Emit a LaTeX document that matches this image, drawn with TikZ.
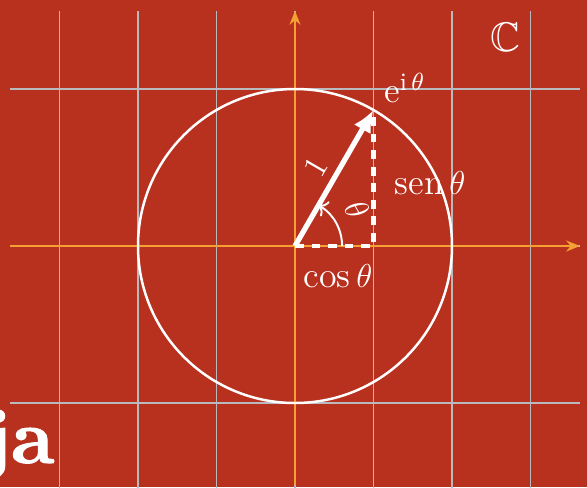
\documentclass[tikz,border=0pt]{standalone}
\usepackage{amsmath,amssymb}
\usepackage{fontspec}
\newfontface\jafont{lmroman10-bold.otf}[FakeBold=1.4]
\usepackage{xcolor}
\definecolor{slidered}{RGB}{184,48,30}
\definecolor{axisorange}{RGB}{245,160,50}
\definecolor{gridgray}{RGB}{185,185,190}
\usepackage{tikz}
\usetikzlibrary{arrows.meta}

\begin{document}
\begin{tikzpicture}[x=2cm, y=2cm,
  gridline/.style={draw=gridgray, line width=0.5pt},
  axis/.style={draw=axisorange, line width=0.55pt, -{Stealth[length=5pt,width=4pt]}},
  unitcircle/.style={draw=white, line width=0.9pt},
  vec/.style={draw=white, line width=1.9pt, -{Latex[length=8pt,width=7pt]}},
  proj/.style={draw=white, line width=1.5pt, dash pattern=on 3.2pt off 2.8pt},
  anglearc/.style={draw=white, line width=0.7pt, -{To[length=3pt]}},
  lbl/.style={text=white, font=\fontsize{13}{16}\selectfont, inner sep=1pt}
]

% Frame
\useasboundingbox (-1.879,-1.535) rectangle (1.860,1.567);
\clip (-1.879,-1.535) rectangle (1.860,1.567);
\fill[slidered] (-1.879,-1.535) rectangle (1.860,1.567);

% Grid
\foreach \x in {-1.5,-1,...,1.5}
  \draw[gridline] (\x,1.497) -- (\x,-1.6);
\foreach \y in {-1,0,1}
  \draw[gridline] (-1.815,\y) -- (1.815,\y);

% Axes
\coordinate (xmin) at (-1.815,0);
\coordinate (xmax) at (1.815,0);
\coordinate (ymin) at (0,-1.52);
\coordinate (ymax) at (0,1.497);
\draw[axis] (xmin) -- (xmax);
\draw[axis] (ymin) -- (ymax);

% Unit circle and point
\coordinate (O) at (0,0);
\coordinate (P) at (60:1);
\coordinate (Px) at (0.5,0);
\draw[unitcircle] (O) circle (1);

\draw[proj] (O) -- (Px) -- (P);
\draw[vec] (O) -- node[lbl, midway, above, sloped, inner sep=3pt] (one) {$1$} (P);
\draw[anglearc] (0.3,0) arc (0:60:0.3);

% Labels
\node[lbl, rotate=-60] (theta) at (30:0.457) {$\theta$};
\node[lbl] (eit) at (0.70,1.005) {$\mathrm{e}^{\mathrm{i}\,\theta}$};
\node[lbl] (sin) at (0.86,0.40) {$\operatorname{sen}\theta$};
\node[lbl] (cos) at (0.274,-0.19) {$\cos\theta$};
\node[lbl, font=\fontsize{15}{18}\selectfont] (C) at (1.338,1.331) {$\mathbb{C}$};

\node[text=white, font=\jafont\fontsize{28}{30}\selectfont, inner sep=0pt,
      anchor=base east] (ja) at (-1.529,-1.382) {ja};

\end{tikzpicture}
\end{document}
